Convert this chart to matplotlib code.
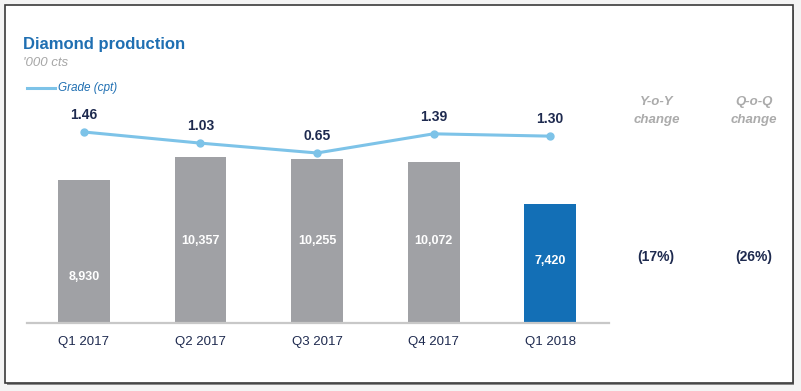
import matplotlib
matplotlib.use("Agg")
import matplotlib.pyplot as plt
from matplotlib.patches import Rectangle

plt.rcParams['font.family'] = ['Liberation Sans', 'DejaVu Sans']

categories = ["Q1 2017", "Q2 2017", "Q3 2017", "Q4 2017", "Q1 2018"]
production = [8930, 10357, 10255, 10072, 7420]
production_labels = ["8,930", "10,357", "10,255", "10,072", "7,420"]
grade = [1.46, 1.03, 0.65, 1.39, 1.30]
grade_labels = ["1.46", "1.03", "0.65", "1.39", "1.30"]
yoy_change = "(17%)"
qoq_change = "(26%)"

W, H = 801, 391
fig = plt.figure(figsize=(W / 100, H / 100), dpi=100)
fig.patch.set_facecolor("#F4F4F4")

def fx(px):
    return px / W

def fy(py):
    return 1 - py / H

# frame with shadow
fig.patches.append(Rectangle((fx(7), fy(385)), fx(787), (383 - 8) / H, transform=fig.transFigure,
                             facecolor="#8a8a8a", edgecolor="none", zorder=-10))
fig.patches.append(Rectangle((fx(5), fy(383)), fx(788), (383 - 5) / H, transform=fig.transFigure,
                             facecolor="white", edgecolor="#3a3a3a", lw=1.2, zorder=-9))

grey = "#A0A1A5"
blue_bar = "#136FB6"
navy = "#1E2A4F"
title_blue = "#1F6FB2"
line_blue = "#7DC3E8"

ax_left, ax_right = 27, 609
ax_bottom, ax_top = 323, 100
ax = fig.add_axes([fx(ax_left), fy(ax_bottom), (ax_right - ax_left) / W, (ax_bottom - ax_top) / H])
ax.set_facecolor("none")
x = list(range(len(categories)))
colors = [grey] * (len(categories) - 1) + [blue_bar]
ax.bar(x, production, width=0.446, color=colors, zorder=2)
ax.set_xlim(-0.489, 4.506)
ax.set_ylim(0, (ax_bottom - ax_top) / 0.01602)
for s in ["top", "right", "left"]:
    ax.spines[s].set_visible(False)
ax.spines["bottom"].set_color("#C8C8C8")
ax.spines["bottom"].set_linewidth(1.6)
ax.set_yticks([])
ax.set_xticks(x)
ax.set_xticklabels(categories, fontsize=9.5, color=navy)
ax.tick_params(axis="x", length=0, pad=9)

# value labels inside bars (vertical pixel positions from the reference)
label_py = [277, 241, 241, 241, 261]
for xi, lab, py in zip(x, production_labels, label_py):
    ax.text(xi, (ax_bottom - py) * (1 / 0.01602), lab, ha="center", va="center",
            color="white", fontsize=9, fontweight="bold", zorder=3)

ax2 = ax.twinx()
ax2.set_ylim(1.46 - (ax_bottom - 132) / 25.9, 1.46 + (132 - ax_top) / 25.9)
ax2.plot(x, grade, color=line_blue, lw=2.2, marker="o", markersize=5, zorder=4)
ax2.axis("off")
for xi, g, lab in zip(x, grade, grade_labels):
    ax2.annotate(lab, (xi, g), xytext=(0, 12), textcoords="offset points",
                 ha="center", va="center", fontsize=10, fontweight="bold", color=navy)

# titles and legend
fig.text(fx(23), fy(44), "Diamond production", fontsize=12, fontweight="bold",
         color=title_blue, ha="left", va="center")
fig.text(fx(23), fy(63), "'000 cts", fontsize=9.5, style="italic", color="#A6A6A6",
         ha="left", va="center")
fig.lines.append(plt.Line2D([fx(27), fx(55)], [fy(88), fy(88)], transform=fig.transFigure,
                            color=line_blue, lw=2.2))
fig.text(fx(58), fy(88), "Grade (cpt)", fontsize=8.5, style="italic", color=title_blue,
         ha="left", va="center")

# change columns
for cx, word in [(657, "Y-o-Y"), (754, "Q-o-Q")]:
    fig.text(fx(cx), fy(102), word, fontsize=9.5, style="italic", fontweight="bold",
             color="#ABABAB", ha="center", va="center")
    fig.text(fx(cx), fy(120), "change", fontsize=9.5, style="italic", fontweight="bold",
             color="#ABABAB", ha="center", va="center")
fig.text(fx(656), fy(257), yoy_change, fontsize=10, fontweight="bold", color=navy,
         ha="center", va="center")
fig.text(fx(754), fy(257), qoq_change, fontsize=10, fontweight="bold", color=navy,
         ha="center", va="center")

fig.savefig("out.png", dpi=100, facecolor=fig.get_facecolor())
